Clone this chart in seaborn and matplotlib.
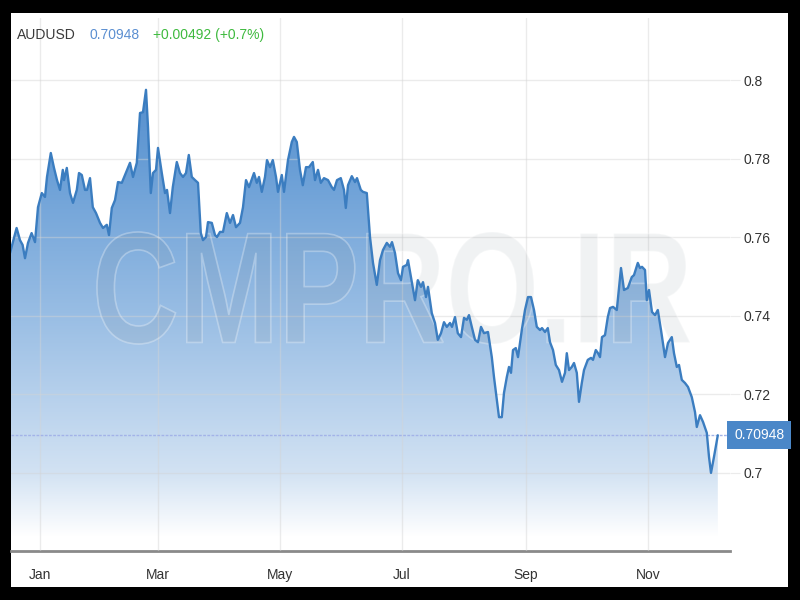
import numpy as np
import pandas as pd
import matplotlib
matplotlib.use('Agg')
import matplotlib.pyplot as plt
from matplotlib.patches import Rectangle, PathPatch
from matplotlib.textpath import TextPath
from matplotlib.font_manager import FontProperties
from matplotlib.colors import LinearSegmentedColormap
from matplotlib.transforms import Affine2D
import matplotlib.dates as mdates
import seaborn as sns

sns.set_style('white')
plt.rcParams['font.family'] = ['Liberation Sans', 'DejaVu Sans']

# data: days counted from 1 Jan, AUDUSD close
START = pd.Timestamp('2018-01-01')
days = [-15, -11.7, -10, -8.7, -7.5, -6, -4.2, -2.5, -1, 0.9,
        2.5, 3.5, 5.4, 7, 8.5, 10, 11.4, 12, 13.4, 15,
        16.5, 18.4, 19.5, 20.9, 22.5, 23.5, 25, 26.4, 28, 30,
        31.5, 33.4, 34.5, 35.9, 37.5, 39, 40.9, 42.5, 45, 46.5,
        48.4, 50, 51.5, 53, 54, 55.4, 56.5, 58, 59, 60.9,
        62.5, 63.5, 65, 66.4, 68.4, 70, 71.5, 73, 74.4, 75.9,
        77.5, 79, 80.4, 81.5, 83, 84, 85.9, 87.5, 88.5, 90,
        91.5, 93.4, 95, 96.5, 98, 100, 101.5, 103, 104.5, 107,
        108.4, 109.5, 110.9, 112.5, 113.5, 115, 116.4, 118, 119, 120.9,
        122, 124, 125.9, 127, 128.4, 130, 131.4, 133, 134.5, 136.4,
        137.5, 139, 140.4, 142, 144, 145.9, 147, 148.5, 150.4, 152,
        152.9, 154, 155.9, 157.5, 158.5, 160.4, 161.5, 163.4, 165, 166.5,
        168.4, 170, 171.5, 173.4, 175, 176, 177.5, 179, 180.5, 181.5,
        183.4, 184, 185.9, 187.5, 188.9, 190.5, 191.5, 193, 194, 195.9,
        197.5, 198.9, 200.5, 202, 203.4, 205, 206, 207.5, 208.9, 210.5,
        212, 213.4, 214.5, 215.9, 217.5, 219, 220.5, 222, 224, 225.9,
        227, 228.4, 229.5, 230.9, 232, 233.4, 234.5, 235.5, 236.5, 237.9,
        239, 240.9, 242.5, 244, 245.5, 247, 248.4, 250, 251, 252.5,
        253.9, 255, 256.5, 257.9, 259.5, 261, 262.5, 263.4, 264.5, 265.9,
        267, 268.4, 269.5, 270.9, 272, 273.9, 275.5, 276.5, 277.9, 279,
        280, 281, 282.5, 283.9, 285, 286.5, 288.4, 290.5, 292, 293.9,
        295.9, 297, 298.9, 300, 301, 302.5, 303.4, 304.5, 306, 307.5,
        308.9, 310.5, 312.5, 314, 315.9, 317, 318.4, 319.5, 320.9, 322.5,
        324, 325.9, 327.5, 328.4, 330, 331.5, 333.4, 334.5, 335.5, 337,
        338.9]
rate = [0.7559, 0.7623, 0.7592, 0.7580, 0.7546, 0.7585, 0.7610, 0.7587, 0.7676, 0.7712,
        0.7702, 0.7753, 0.7814, 0.7776, 0.7745, 0.7720, 0.7771, 0.7745, 0.7776, 0.7712,
        0.7687, 0.7720, 0.7763, 0.7758, 0.7720, 0.7720, 0.7750, 0.7676, 0.7661, 0.7636,
        0.7623, 0.7631, 0.7605, 0.7674, 0.7694, 0.7740, 0.7738, 0.7758, 0.7789, 0.7753,
        0.7789, 0.7916, 0.7918, 0.7975, 0.7880, 0.7712, 0.7763, 0.7771, 0.7827, 0.7763,
        0.7712, 0.7720, 0.7661, 0.7727, 0.7791, 0.7763, 0.7753, 0.7763, 0.7809, 0.7753,
        0.7745, 0.7738, 0.7610, 0.7592, 0.7600, 0.7638, 0.7636, 0.7605, 0.7600, 0.7613,
        0.7613, 0.7661, 0.7636, 0.7656, 0.7625, 0.7636, 0.7676, 0.7745, 0.7727, 0.7763,
        0.7738, 0.7753, 0.7715, 0.7753, 0.7796, 0.7778, 0.7796, 0.7753, 0.7715, 0.7758,
        0.7715, 0.7796, 0.7842, 0.7855, 0.7842, 0.7771, 0.7732, 0.7778, 0.7778, 0.7791,
        0.7745, 0.7771, 0.7738, 0.7750, 0.7745, 0.7727, 0.7720, 0.7745, 0.7750, 0.7720,
        0.7674, 0.7732, 0.7755, 0.7740, 0.7750, 0.7720, 0.7715, 0.7712, 0.7600, 0.7534,
        0.7478, 0.7541, 0.7567, 0.7585, 0.7575, 0.7587, 0.7559, 0.7508, 0.7490, 0.7524,
        0.7529, 0.7541, 0.7485, 0.7439, 0.7490, 0.7473, 0.7485, 0.7447, 0.7473, 0.7406,
        0.7381, 0.7338, 0.7355, 0.7383, 0.7371, 0.7381, 0.7371, 0.7396, 0.7355, 0.7345,
        0.7394, 0.7389, 0.7401, 0.7371, 0.7338, 0.7332, 0.7371, 0.7355, 0.7358, 0.7294,
        0.7243, 0.7185, 0.7141, 0.7141, 0.7203, 0.7243, 0.7269, 0.7254, 0.7312, 0.7317,
        0.7294, 0.7363, 0.7414, 0.7447, 0.7447, 0.7414, 0.7371, 0.7363, 0.7368, 0.7358,
        0.7368, 0.7332, 0.7312, 0.7274, 0.7261, 0.7231, 0.7254, 0.7304, 0.7261, 0.7269,
        0.7279, 0.7254, 0.7180, 0.7228, 0.7261, 0.7287, 0.7292, 0.7287, 0.7312, 0.7304,
        0.7294, 0.7345, 0.7350, 0.7396, 0.7419, 0.7422, 0.7414, 0.7521, 0.7465, 0.7470,
        0.7498, 0.7503, 0.7534, 0.7521, 0.7524, 0.7516, 0.7439, 0.7465, 0.7409, 0.7401,
        0.7414, 0.7363, 0.7294, 0.7330, 0.7345, 0.7304, 0.7269, 0.7274, 0.7236, 0.7228,
        0.7218, 0.7192, 0.7154, 0.7116, 0.7146, 0.7129, 0.7101, 0.7040, 0.6999, 0.7040,
        0.70948]

symbol = 'AUDUSD'
last_price = 0.70948
change_text = '+0.00492 (+0.7%)'
yticks = [0.7, 0.72, 0.74, 0.76, 0.78, 0.8]
ytick_labels = ['0.7', '0.72', '0.74', '0.76', '0.78', '0.8']
month_ticks = ['2018-01-01', '2018-03-01', '2018-05-01', '2018-07-01', '2018-09-01', '2018-11-01']
month_labels = ['Jan', 'Mar', 'May', 'Jul', 'Sep', 'Nov']
watermark = 'CMPRO.IR'

df = pd.DataFrame({'date': START + pd.to_timedelta(days, unit='D'), 'rate': rate})

fig = plt.figure(figsize=(8, 6), dpi=100)
fig.patch.set_facecolor('black')
fig.add_artist(Rectangle((11/800, 13/600), 777/800, 574/600, transform=fig.transFigure,
                         facecolor='white', edgecolor='none', zorder=0))
ax = fig.add_axes([11/800, 49/600, 719/800, 533/600])
ax.set_facecolor('white')

sns.lineplot(data=df, x='date', y='rate', ax=ax, color='#3b7dc0', linewidth=1.7, zorder=5)

# gradient area under the line
fill_base = 0.6835
poly = ax.fill_between(df['date'], df['rate'], fill_base, facecolor='none', edgecolor='none')
cmap = LinearSegmentedColormap.from_list('area', [
    (0.0, '#ffffff'), (0.14, '#d2e2f3'), (0.49, '#98bde4'), (0.83, '#669cd5'), (1.0, '#548dcc')])
xmin = mdates.date2num(START - pd.Timedelta(days=14.5))
xmax = mdates.date2num(START + pd.Timedelta(days=345))
grad = np.linspace(0, 1, 256).reshape(-1, 1)
im = ax.imshow(grad, extent=[xmin, xmax, fill_base, 0.8], origin='lower', aspect='auto',
               cmap=cmap, zorder=1)
im.set_clip_path(poly.get_paths()[0], transform=ax.transData)

# watermark
tp = TextPath((0, 0), watermark, size=1,
              prop=FontProperties(family='Liberation Sans', weight='bold'))
bb = tp.get_extents()
trf = (Affine2D().translate(-bb.x0, -bb.y0)
       .scale((593/800) / bb.width, (112/600) / bb.height)
       .translate(97/800, 256/600) + fig.transFigure)
wm = PathPatch(tp, transform=trf, facecolor=(0.45, 0.5, 0.55, 0.10),
               edgecolor=(1, 1, 1, 0.3), linewidth=1.2, zorder=3, clip_on=False)
ax.add_patch(wm)

# last price marker line and tag
ax.axhline(last_price, color='#a3b3e8', linewidth=1, linestyle=(0, (2, 1)), zorder=4)
ax.text(1.006, last_price, f'{last_price:.5f}', transform=ax.get_yaxis_transform(),
        color='white', fontsize=10, va='center', ha='left', zorder=6, clip_on=False,
        bbox=dict(boxstyle='square,pad=0.5', facecolor='#4a87c8', edgecolor='none'))

ax.set_xlim(xmin, xmax)
ax.set_ylim(0.68, 0.8158)
ax.set_xticks(mdates.date2num(pd.to_datetime(month_ticks)))
ax.set_xticklabels(month_labels)
ax.set_yticks(yticks)
ax.set_yticklabels(ytick_labels)
ax.yaxis.tick_right()
ax.set(xlabel='', ylabel='')

ax.set_axisbelow(False)
ax.grid(True, color='#d4d4d4', alpha=0.45, linewidth=1)
for s in ['top', 'left', 'right']:
    ax.spines[s].set_visible(False)
ax.spines['bottom'].set_color('#8a8a8a')
ax.spines['bottom'].set_linewidth(2)
ax.tick_params(axis='x', length=0, pad=12, labelsize=10, labelcolor='#333333')
ax.tick_params(axis='y', length=7, color='#ebebeb', pad=3, labelsize=10, labelcolor='#333333')

# header
fig.text(17/800, 1 - 35/600, symbol, color='#3a3a3a', fontsize=10, va='center')
fig.text(89/800, 1 - 35/600, f'{last_price:.5f}', color='#5b8fd1', fontsize=10, va='center')
fig.text(153/800, 1 - 35/600, change_text, color='#3fba3f', fontsize=10, va='center')

fig.savefig('out.png', dpi=100, facecolor=fig.get_facecolor())
